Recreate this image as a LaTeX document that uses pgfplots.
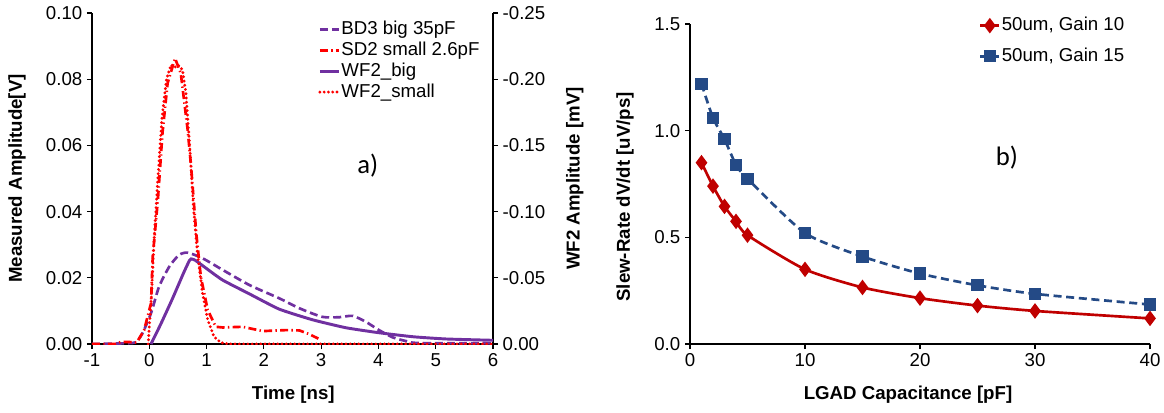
\documentclass[border=0pt]{standalone}
\usepackage{fontspec}
\setmainfont{Liberation Sans}
\newfontfamily\calibri{Carlito}
\usepackage{pgfplots}
\pgfplotsset{compat=1.18}

\definecolor{purp}{RGB}{112,48,160}
\definecolor{sdred}{RGB}{255,0,0}
\definecolor{gred}{RGB}{192,0,0}
\definecolor{gblue}{RGB}{36,74,134}

\pgfplotsset{
  base/.style={
    scale only axis,
    tick align=outside,
    major tick length=3.75pt,
    tick style={black, line width=0.9pt},
    axis line style={black, line width=1pt, -},
    tick label style={font=\fontsize{14}{17}\selectfont},
    label style={font=\bfseries\fontsize{14}{17}\selectfont},
    /pgf/number format/assume math mode=true,
    scaled ticks=false,
    legend cell align=left,
    legend style={draw=none, fill=none, inner sep=0pt,
      font=\fontsize{14}{17}\selectfont,
      nodes={inner sep=1pt, text height=10.5pt, text depth=3pt}},
    legend image code/.code={
      \draw[mark repeat=2,mark phase=2,#1] plot coordinates {(0pt,0pt) (7pt,0pt) (14pt,0pt)};},
  },
  bd3/.style={color=purp, line width=2pt, dash pattern=on 6pt off 3pt},
  sd2/.style={color=sdred, line width=2pt, dash pattern=on 6pt off 2.5pt on 1pt off 2.5pt},
  wfbig/.style={color=purp, line width=2.2pt},
  wfsmall/.style={color=sdred, line width=2.4pt, line cap=round, dash pattern=on 0pt off 3.2pt},
}

\begin{document}
\begin{tikzpicture}
\path[use as bounding box] (-69pt,-51pt) rectangle (804pt,258pt);

% ---- a) measured pulses
\begin{axis}[base,
  at={(0pt,0pt)}, anchor=south west,
  width=300.75pt, height=248.25pt,
  xmin=-1, xmax=6, ymin=0, ymax=0.1,
  axis x line*=bottom, axis y line*=left,
  xtick={-1,0,1,2,3,4,5,6},
  ytick={0,0.02,0.04,0.06,0.08,0.1},
  yticklabel style={/pgf/number format/.cd, fixed, fixed zerofill, precision=2},
  xlabel={Time [ns]},
  ylabel={Measured Amplitude[V]},
  xlabel style={at={(axis description cs:0.502,-0.154)}, anchor=center},
  ylabel style={at={(axis description cs:-0.187,0.5)}, anchor=center},
]
\addplot[bd3, smooth, tension=0.4] coordinates {
  (-1,0) (-0.3,0.0003) (-0.2,0.0012) (-0.12,0.0032) (0.03,0.0093) (0.17,0.0173)
  (0.35,0.0234) (0.52,0.0269) (0.67,0.0276) (0.93,0.0259) (1.28,0.0224)
  (1.75,0.0178) (2.27,0.0138) (2.62,0.0108) (3.02,0.0082) (3.32,0.0081)
  (3.55,0.0085) (3.78,0.0067) (4.01,0.0042) (4.25,0.002) (4.48,0.0009)
  (4.7,0.0003) (6,0.0002)
};
\addplot[sd2] coordinates {
  (-1,0) (-0.6,0) (-0.5,0.0006) (-0.35,0.0006) (-0.22,0.0004) (-0.09,0.0042)
  (0.03,0.0123) (0.06,0.0264) (0.15,0.0435) (0.23,0.0637) (0.32,0.0788)
  (0.45,0.0863) (0.55,0.0818) (0.67,0.0647) (0.73,0.0536) (0.82,0.0334)
  (0.9,0.0203) (1.02,0.0103) (1.16,0.0052) (1.28,0.005) (1.63,0.0052)
  (1.98,0.0039) (2.39,0.0042) (2.62,0.0041) (2.79,0.003) (3.0,0.0012)
};
\end{axis}

% ---- a) WF2 simulation on the secondary axis
\begin{axis}[base,
  at={(0pt,0pt)}, anchor=south west,
  width=300.75pt, height=248.25pt,
  xmin=-1, xmax=6, ymin=-0.25, ymax=0, y dir=reverse,
  axis x line=none, axis y line*=right,
  ytick={-0.25,-0.2,-0.15,-0.1,-0.05,0},
  yticklabel style={/pgf/number format/.cd, fixed, fixed zerofill, precision=2},
  ylabel={WF2 Amplitude [mV]},
  ylabel style={at={(axis description cs:1.204,0.5)}, anchor=center},
  legend style={at={(axis description cs:0.5636,0.983)}, anchor=north west, row sep=0.2pt},
]
\addlegendimage{bd3}
\addlegendentry{BD3 big 35pF}
\addlegendimage{sd2}
\addlegendentry{SD2 small 2.6pF}
\addplot[wfbig, smooth, tension=0.3] coordinates {
  (0.03,0) (0.2,-0.015) (0.4,-0.0338) (0.6,-0.0538) (0.7,-0.063) (0.73,-0.0643)
  (0.8,-0.0633) (0.99,-0.0573) (1.28,-0.0483) (1.75,-0.0378) (2.27,-0.0263)
  (2.85,-0.0183) (3.43,-0.0123) (4.01,-0.0085) (4.6,-0.0055) (5.18,-0.0038)
  (6,-0.0028)
};
\addlegendentry{WF2\_big}
\addplot[wfsmall] coordinates {
  (-0.02,0) (0.04,-0.0375) (0.08,-0.075) (0.15,-0.125) (0.22,-0.17) (0.3,-0.2)
  (0.38,-0.2108) (0.44,-0.2088) (0.5,-0.2108) (0.58,-0.207) (0.64,-0.1893)
  (0.71,-0.1465) (0.77,-0.1038) (0.84,-0.0685) (0.93,-0.0383) (1.02,-0.0183)
  (1.13,-0.0055) (1.25,-0.001) (1.4,0) (6,0)
};
\addlegendentry{WF2\_small}
\node[font=\calibri\fontsize{20}{24}\selectfont] at (axis description cs:0.688,0.538) {a)};
\end{axis}

% ---- b) slew rate vs capacitance
\begin{axis}[base,
  at={(448.5pt,0pt)}, anchor=south west,
  width=345pt, height=240pt,
  xmin=0, xmax=40, ymin=0, ymax=1.5,
  axis x line*=bottom, axis y line*=left,
  xtick={0,10,20,30,40},
  ytick={0,0.5,1,1.5},
  yticklabel style={/pgf/number format/.cd, fixed, fixed zerofill, precision=1},
  xlabel={LGAD Capacitance [pF]},
  ylabel={Slew-Rate dV/dt [uV/ps]},
  xlabel style={at={(axis description cs:0.474,-0.159)}, anchor=center},
  ylabel style={at={(axis description cs:-0.141,0.46)}, anchor=center},
  legend style={at={(axis description cs:0.628,1.028)}, anchor=north west, row sep=7.5pt},
  clip=false,
]
\addplot[color=gred, line width=2pt, smooth, tension=0.4,
  mark=diamond*, mark size=4.2pt, mark options={solid, fill=gred}] coordinates {
  (1,0.85) (2,0.74) (3,0.645) (4,0.575) (5,0.51) (10,0.35) (15,0.265)
  (20,0.215) (25,0.18) (30,0.155) (40,0.12)
};
\addlegendentry{50um, Gain 10}
\addplot[color=gblue, line width=2pt, dash pattern=on 6pt off 3.5pt, smooth, tension=0.4,
  mark=square*, mark size=3.6pt, mark options={solid, fill=gblue}] coordinates {
  (1,1.22) (2,1.06) (3,0.96) (4,0.84) (5,0.775) (10,0.52) (15,0.41)
  (20,0.33) (25,0.275) (30,0.235) (40,0.185)
};
\addlegendentry{50um, Gain 15}
\node[font=\calibri\fontsize{20}{24}\selectfont] at (axis description cs:0.689,0.581) {b)};
\end{axis}
\end{tikzpicture}
\end{document}
